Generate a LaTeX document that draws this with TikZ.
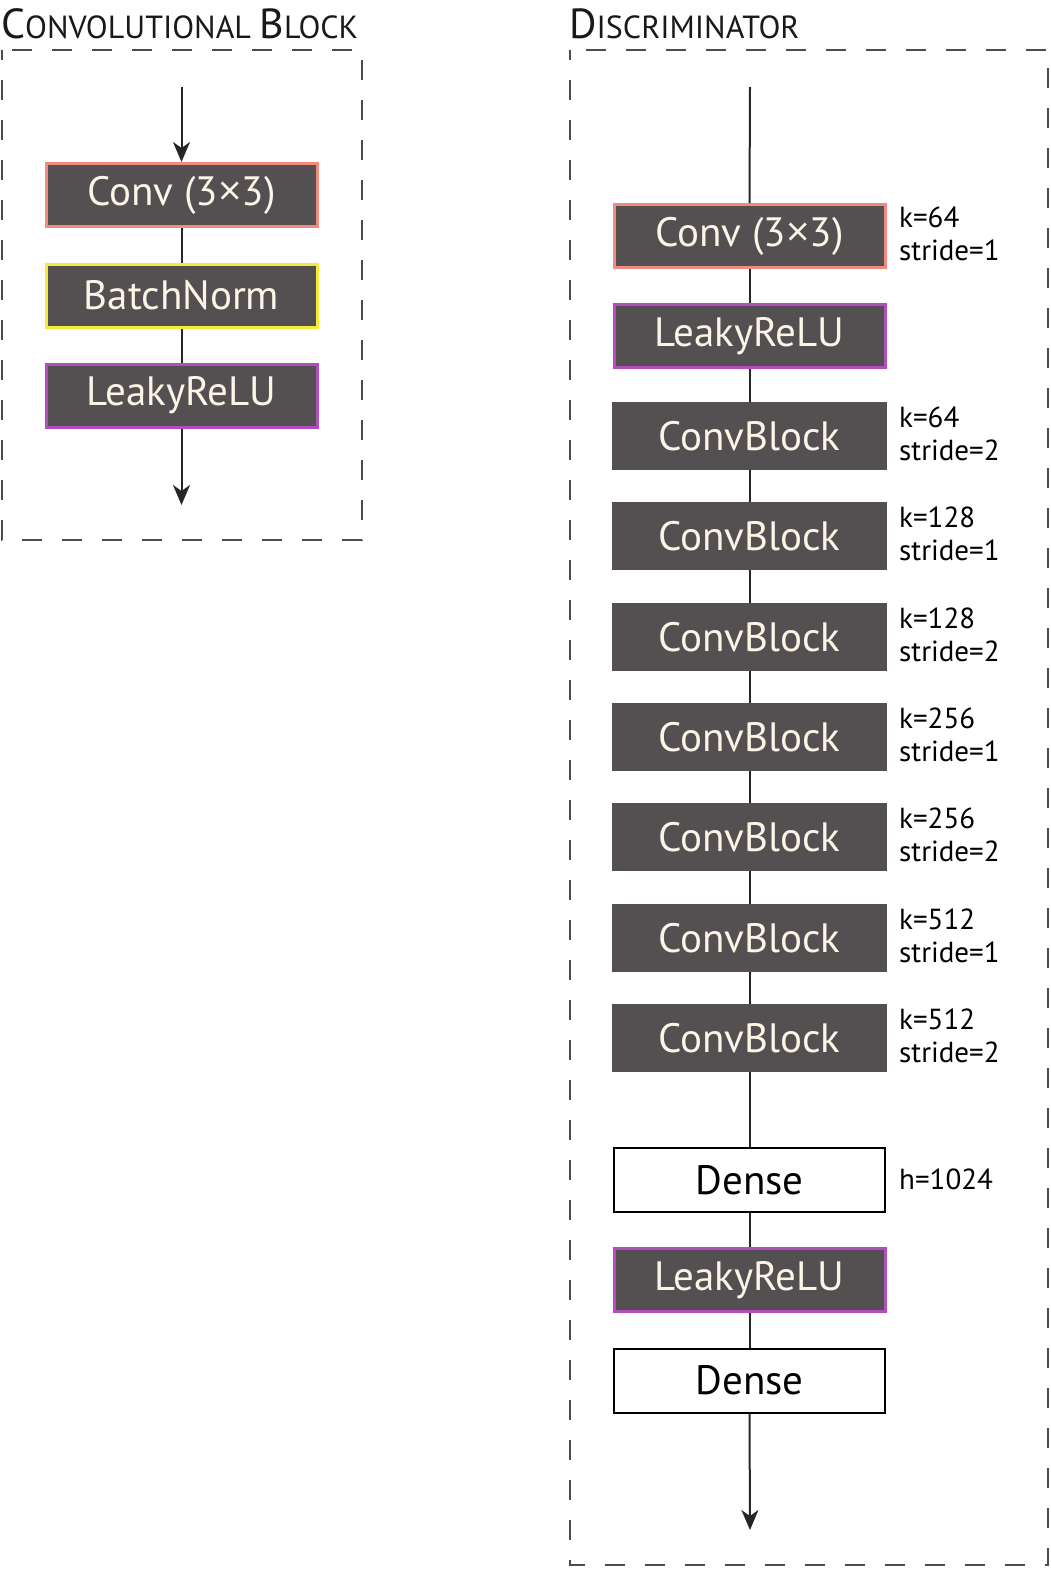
\documentclass[tikz,border=0pt]{standalone}
\usepackage{fontspec}
\setmainfont{PT Sans}
\newfontfamily\timesf{Open Sans}
\usetikzlibrary{arrows.meta}
\newcommand{\tms}{{\timesf ×}}
\begin{document}
\begin{tikzpicture}[x=1pt,y=-1pt,
  blk/.style={rectangle, minimum width=273pt, minimum height=66pt, inner sep=0pt,
    fill=boxgray, text=cream, font=\fontsize{41}{44}\selectfont},
  convbox/.style={blk, draw=salmon, line width=3pt, minimum width=271pt, minimum height=63pt},
  bnbox/.style={blk, draw=bnyellow, line width=3pt, minimum width=271pt, minimum height=63pt},
  relubox/.style={blk, draw=relupurple, line width=3pt, minimum width=271pt, minimum height=63pt},
  cbbox/.style={blk, minimum width=275pt, minimum height=68pt},
  densebox/.style={rectangle, draw=black, line width=2pt, fill=white, minimum width=271pt,
    minimum height=64pt, inner sep=0pt, font=\fontsize{41}{44}\selectfont},
  lbl/.style={anchor=west, align=left, inner sep=0pt, font=\fontsize{29}{33}\selectfont},
  link/.style={line width=2pt, draw=black!85},
  arr/.style={link, -{Stealth[length=20pt,width=17pt,inset=6pt]}},
  frame/.style={draw=black!70, line width=1.5pt, dash pattern=on 20pt off 20pt, dash phase=10pt},
  ttl/.style={anchor=base west, inner sep=0pt, text=black!90}
]
\definecolor{boxgray}{HTML}{545051}
\definecolor{cream}{HTML}{FBF5E8}
\definecolor{salmon}{HTML}{F28A7E}
\definecolor{bnyellow}{HTML}{F3EA3A}
\definecolor{relupurple}{HTML}{B24EBD}
\useasboundingbox (0,0) rectangle (1051,1571);

% titles
\node[ttl] (t1) at (1,39) {\fontsize{42}{44}\selectfont C\fontsize{32}{34}\selectfont ONVOLUTIONAL \fontsize{42}{44}\selectfont B\fontsize{32}{34}\selectfont LOCK};
\node[ttl] (t2) at (569,39) {\fontsize{42}{44}\selectfont D\fontsize{32}{34}\selectfont ISCRIMINATOR};

% frames
\draw[frame] (2,50) rectangle (362,540);
\draw[frame] (570,50) rectangle (1048,1565);

% left block
\coordinate (lin) at (181.5,87);
\node[convbox] (lconv) at (181.5,195) {Conv (3\tms3)};
\node[bnbox] (lbn) at (181.5,295.5) {BatchNorm};
\node[relubox] (lrelu) at (181.5,395.5) {LeakyReLU};
\coordinate (lout) at (181.5,505);
\draw[arr] (lin) -- (lconv.north);
\draw[link] (lconv) -- (lbn);
\draw[link] (lbn) -- (lrelu);
\draw[arr] (lrelu.south) -- (lout);

% discriminator
\coordinate (din) at (750,87);
\node[convbox] (dconv) at (749.5,236) {Conv (3\tms3)};
\node[relubox] (drelu1) at (749.5,336) {LeakyReLU};
\node[cbbox] (cb1) at (749.5,436) {ConvBlock};
\node[cbbox] (cb2) at (749.5,536) {ConvBlock};
\node[cbbox] (cb3) at (749.5,637) {ConvBlock};
\node[cbbox] (cb4) at (749.5,737) {ConvBlock};
\node[cbbox] (cb5) at (749.5,837) {ConvBlock};
\node[cbbox] (cb6) at (749.5,938) {ConvBlock};
\node[cbbox] (cb7) at (749.5,1038) {ConvBlock};
\node[densebox] (dense1) at (749.5,1180) {Dense};
\node[relubox] (drelu2) at (749.5,1280) {LeakyReLU};
\node[densebox] (dense2) at (749.5,1380.5) {Dense};
\coordinate (dout) at (750,1530);

\draw[link] (din) -- (dconv.north);
\draw[link] (dconv) -- (drelu1);
\draw[link] (drelu1) -- (cb1);
\draw[link] (cb1) -- (cb2);
\draw[link] (cb2) -- (cb3);
\draw[link] (cb3) -- (cb4);
\draw[link] (cb4) -- (cb5);
\draw[link] (cb5) -- (cb6);
\draw[link] (cb6) -- (cb7);
\draw[link] (cb7) -- (dense1);
\draw[link] (dense1) -- (drelu2);
\draw[link] (drelu2) -- (dense2);
\draw[arr] (dense2.south) -- (dout);

% labels
\node[lbl] (l0) at (899,234) {k=64\\stride=1};
\node[lbl] (l1) at (899,434) {k=64\\stride=2};
\node[lbl] (l2) at (899,534) {k=128\\stride=1};
\node[lbl] (l3) at (899,635) {k=128\\stride=2};
\node[lbl] (l4) at (899,735) {k=256\\stride=1};
\node[lbl] (l5) at (899,835) {k=256\\stride=2};
\node[lbl] (l6) at (899,936) {k=512\\stride=1};
\node[lbl] (l7) at (899,1036) {k=512\\stride=2};
\node[lbl] (l8) at (899,1179) {h=1024};
\end{tikzpicture}
\end{document}
